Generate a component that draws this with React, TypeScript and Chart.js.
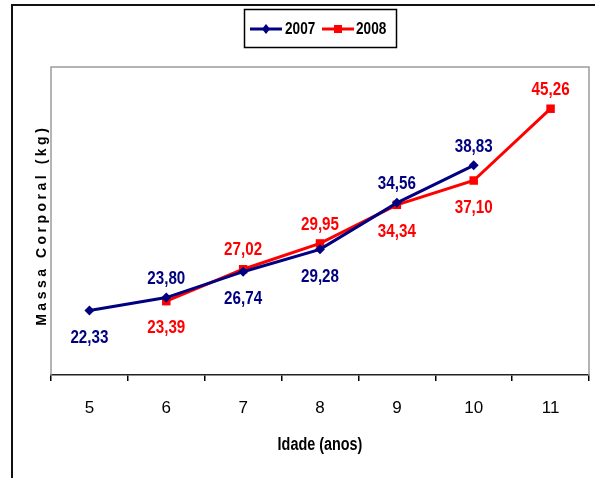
import React, { useEffect, useRef } from 'react';
import { Chart, registerables } from 'chart.js';

Chart.register(...registerables);

// ---- data ----
const ages = ['5', '6', '7', '8', '9', '10', '11'];
const seriesNames = ['2007', '2008'];
const mass2007 = [22.33, 23.8, 26.74, 29.28, 34.56, 38.83, null];
const mass2008 = [null, 23.39, 27.02, 29.95, 34.34, 37.1, 45.26];
// label placement relative to the point
const place2007 = ['below', 'above', 'below', 'below', 'above', 'above', null];
const place2008 = [null, 'below', 'above', 'above', 'below', 'below', 'above'];
const yMin = 15;
const yMax = 50;
const xTitle = 'Idade (anos)';
const yTitle = 'Massa Corporal (kg)';

const NAVY = '#000080';
const RED = '#FF0000';
const SANS = "'Liberation Sans', Arial, sans-serif";
const NARROW = 0.8;

function fmt(v: number) {
  return v.toFixed(2).replace('.', ',');
}

function narrowText(
  ctx: CanvasRenderingContext2D,
  text: string,
  x: number,
  y: number,
  font: string,
  color: string,
  align: CanvasTextAlign = 'center',
  sx = NARROW
) {
  ctx.save();
  ctx.font = font;
  ctx.fillStyle = color;
  ctx.textBaseline = 'middle';
  ctx.textAlign = align;
  ctx.translate(x, y);
  ctx.scale(sx, 1);
  ctx.fillText(text, 0, 0);
  ctx.restore();
}

function drawMarker(ctx: CanvasRenderingContext2D, style: string, x: number, y: number, color: string) {
  ctx.save();
  ctx.fillStyle = color;
  ctx.beginPath();
  if (style === 'rectRot') {
    ctx.moveTo(x, y - 5);
    ctx.lineTo(x + 4, y);
    ctx.lineTo(x, y + 5);
    ctx.lineTo(x - 4, y);
    ctx.closePath();
  } else {
    ctx.rect(x - 4, y - 4, 8, 8);
  }
  ctx.fill();
  ctx.restore();
}

const decor = {
  id: 'decor',
  beforeDatasetsDraw(chart: any) {
    const { ctx, chartArea: a } = chart;
    ctx.save();
    ctx.strokeStyle = '#9c9c9c';
    ctx.lineWidth = 1.5;
    ctx.beginPath();
    ctx.moveTo(a.left, a.bottom);
    ctx.lineTo(a.left, a.top);
    ctx.lineTo(a.right, a.top);
    ctx.lineTo(a.right, a.bottom);
    ctx.stroke();
    ctx.restore();
  },
  afterDraw(chart: any) {
    const { ctx, chartArea: a } = chart;
    const places = [place2007, place2008];
    const colors = [NAVY, RED];
    chart.data.datasets.forEach((ds: any, i: number) => {
      const meta = chart.getDatasetMeta(i);
      meta.data.forEach((pt: any, j: number) => {
        const v = ds.data[j];
        if (v == null) return;
        const off = places[i][j] === 'above' ? -19 : 27;
        narrowText(ctx, fmt(v), pt.x, pt.y + off, `bold 19px ${SANS}`, colors[i]);
      });
    });

    // x title
    narrowText(ctx, xTitle, (a.left + a.right) / 2, 445, `bold 18px ${SANS}`, '#000');

    // y title (rotated, letter-spaced)
    ctx.save();
    ctx.translate(42, (a.top + a.bottom) / 2 + 6);
    ctx.rotate(-Math.PI / 2);
    ctx.font = `bold 14px ${SANS}`;
    (ctx as any).letterSpacing = '3.5px';
    ctx.fillStyle = '#000';
    ctx.textAlign = 'center';
    ctx.textBaseline = 'middle';
    ctx.fillText(yTitle, 1.75, 0);
    ctx.restore();

    // legend
    ctx.save();
    ctx.fillStyle = '#fff';
    ctx.strokeStyle = '#000';
    ctx.lineWidth = 1.5;
    ctx.fillRect(244.5, 9.5, 152, 38);
    ctx.strokeRect(244.5, 9.5, 152, 38);
    ctx.restore();
    const items = [
      { x0: 250, x1: 282, tx: 285, color: NAVY, style: 'rectRot' },
      { x0: 322, x1: 354, tx: 356, color: RED, style: 'rect' },
    ];
    items.forEach((it, i) => {
      ctx.save();
      ctx.strokeStyle = it.color;
      ctx.lineWidth = 3;
      ctx.beginPath();
      ctx.moveTo(it.x0, 29);
      ctx.lineTo(it.x1, 29);
      ctx.stroke();
      ctx.restore();
      drawMarker(ctx, it.style, (it.x0 + it.x1) / 2, 29, it.color);
      narrowText(ctx, seriesNames[i], it.tx, 29, `bold 17px ${SANS}`, '#000', 'left');
    });
  },
};

export default function App() {
  const ref = useRef<HTMLCanvasElement>(null);

  useEffect(() => {
    if (!ref.current) return;
    const chart = new Chart(ref.current, {
      type: 'line',
      data: {
        labels: ages,
        datasets: [
          {
            label: seriesNames[0],
            data: mass2007,
            borderColor: NAVY,
            backgroundColor: NAVY,
            borderWidth: 3,
            pointStyle: 'rectRot',
            pointRadius: 5,
            pointBorderWidth: 0,
            pointBackgroundColor: NAVY,
            tension: 0,
          },
          {
            label: seriesNames[1],
            data: mass2008,
            borderColor: RED,
            backgroundColor: RED,
            borderWidth: 3,
            pointStyle: 'rect',
            pointRadius: 6,
            pointBorderWidth: 0,
            pointBackgroundColor: RED,
            tension: 0,
          },
        ],
      },
      options: {
        animation: false,
        responsive: false,
        devicePixelRatio: 1,
        layout: { padding: { left: 51, right: 6, top: 67, bottom: 0 } },
        plugins: { legend: { display: false }, tooltip: { enabled: false } },
        scales: {
          x: {
            offset: true,
            grid: {
              display: true,
              offset: true,
              drawOnChartArea: false,
              drawTicks: true,
              tickLength: 6,
              color: '#000',
              lineWidth: 1.5,
            },
            border: { display: true, color: '#222', width: 1.5 },
            ticks: {
              color: '#000',
              padding: 17,
              font: { family: "'Liberation Sans', Arial", size: 17 },
            },
            afterFit: (scale: any) => {
              scale.height = 103;
            },
          },
          y: {
            display: false,
            min: yMin,
            max: yMax,
          },
        },
      },
      plugins: [decor],
    });
    return () => chart.destroy();
  }, []);

  return (
    <div
      style={{
        position: 'fixed',
        left: 0,
        top: 0,
        width: 595,
        height: 478,
        background: '#fff',
        overflow: 'hidden',
      }}
    >
      <div
        style={{
          position: 'absolute',
          left: 11,
          top: 4,
          width: 700,
          height: 600,
          borderLeft: '2px solid #111',
          borderTop: '2px solid #111',
        }}
      />
      <canvas
        ref={ref}
        width={595}
        height={478}
        style={{ position: 'absolute', left: 0, top: 0, width: 595, height: 478 }}
      />
    </div>
  );
}
